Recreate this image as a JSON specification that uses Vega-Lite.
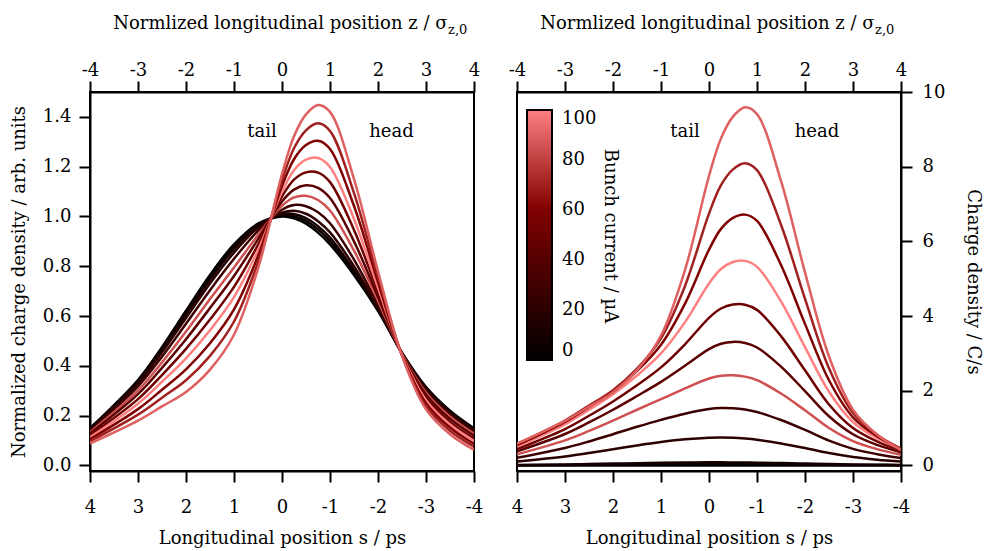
{
  "$schema": "https://vega.github.io/schema/vega-lite/v6.json",
  "background": "white",
  "padding": {"left": 9, "top": 13, "right": 2, "bottom": 0},
  "spacing": 23,
  "config": {
    "font": "DejaVu Serif",
    "view": {"stroke": "black", "strokeWidth": 2},
    "axis": {
      "domainColor": "black", "domainWidth": 2, "tickColor": "black", "tickWidth": 2, "tickSize": 11,
      "labelFontSize": 18, "titleFontSize": 18, "labelColor": "black", "titleColor": "black",
      "titleFontWeight": "normal", "grid": false, "labelFont": "DejaVu Serif", "titleFont": "DejaVu Serif",
      "labelFlush": false, "labelOverlap": false
    },
    "text": {"font": "DejaVu Serif"}
  },
  "datasets": {
    "d": [
      {"c":0,"I":0,"s":4,"n":0.149,"q":0},{"c":0,"I":0,"s":3,"n":0.343,"q":0},{"c":0,"I":0,"s":2.5,"n":0.475,"q":0},{"c":0,"I":0,"s":2,"n":0.621,"q":0},{"c":0,"I":0,"s":1.5,"n":0.765,"q":0},{"c":0,"I":0,"s":1,"n":0.888,"q":0},{"c":0,"I":0,"s":0.5,"n":0.971,"q":0},{"c":0,"I":0,"s":0,"n":1.0,"q":0},{"c":0,"I":0,"s":-0.25,"n":0.993,"q":0},{"c":0,"I":0,"s":-0.5,"n":0.971,"q":0},{"c":0,"I":0,"s":-0.75,"n":0.935,"q":0},{"c":0,"I":0,"s":-1,"n":0.888,"q":0},{"c":0,"I":0,"s":-1.5,"n":0.765,"q":0},{"c":0,"I":0,"s":-2,"n":0.621,"q":0},{"c":0,"I":0,"s":-2.5,"n":0.452,"q":0},{"c":0,"I":0,"s":-3,"n":0.315,"q":0},{"c":0,"I":0,"s":-3.5,"n":0.220,"q":0},{"c":0,"I":0,"s":-4,"n":0.149,"q":0},
      {"c":1,"I":5,"s":4,"n":0.148,"q":0.006},{"c":1,"I":5,"s":3,"n":0.339,"q":0.014},{"c":1,"I":5,"s":2.5,"n":0.469,"q":0.019},{"c":1,"I":5,"s":2,"n":0.613,"q":0.025},{"c":1,"I":5,"s":1.5,"n":0.756,"q":0.030},{"c":1,"I":5,"s":1,"n":0.879,"q":0.035},{"c":1,"I":5,"s":0.5,"n":0.967,"q":0.039},{"c":1,"I":5,"s":0,"n":1.004,"q":0.040},{"c":1,"I":5,"s":-0.25,"n":1.001,"q":0.040},{"c":1,"I":5,"s":-0.5,"n":0.982,"q":0.039},{"c":1,"I":5,"s":-0.75,"n":0.948,"q":0.038},{"c":1,"I":5,"s":-1,"n":0.901,"q":0.036},{"c":1,"I":5,"s":-1.5,"n":0.775,"q":0.031},{"c":1,"I":5,"s":-2,"n":0.625,"q":0.025},{"c":1,"I":5,"s":-2.5,"n":0.452,"q":0.018},{"c":1,"I":5,"s":-3,"n":0.313,"q":0.0125},{"c":1,"I":5,"s":-3.5,"n":0.218,"q":0.0087},{"c":1,"I":5,"s":-4,"n":0.147,"q":0.006},
      {"c":2,"I":10,"s":4,"n":0.146,"q":0.012},{"c":2,"I":10,"s":3,"n":0.335,"q":0.027},{"c":2,"I":10,"s":2.5,"n":0.463,"q":0.037},{"c":2,"I":10,"s":2,"n":0.605,"q":0.048},{"c":2,"I":10,"s":1.5,"n":0.746,"q":0.060},{"c":2,"I":10,"s":1,"n":0.870,"q":0.070},{"c":2,"I":10,"s":0.5,"n":0.962,"q":0.077},{"c":2,"I":10,"s":0,"n":1.009,"q":0.081},{"c":2,"I":10,"s":-0.25,"n":1.010,"q":0.081},{"c":2,"I":10,"s":-0.5,"n":0.993,"q":0.079},{"c":2,"I":10,"s":-0.75,"n":0.961,"q":0.077},{"c":2,"I":10,"s":-1,"n":0.915,"q":0.073},{"c":2,"I":10,"s":-1.5,"n":0.784,"q":0.063},{"c":2,"I":10,"s":-2,"n":0.629,"q":0.050},{"c":2,"I":10,"s":-2.5,"n":0.451,"q":0.036},{"c":2,"I":10,"s":-3,"n":0.311,"q":0.025},{"c":2,"I":10,"s":-3.5,"n":0.215,"q":0.017},{"c":2,"I":10,"s":-4,"n":0.145,"q":0.012},
      {"c":3,"I":20,"s":4,"n":0.143,"q":0.105},{"c":3,"I":20,"s":3,"n":0.328,"q":0.240},{"c":3,"I":20,"s":2.5,"n":0.454,"q":0.332},{"c":3,"I":20,"s":2,"n":0.592,"q":0.433},{"c":3,"I":20,"s":1.5,"n":0.731,"q":0.535},{"c":3,"I":20,"s":1,"n":0.855,"q":0.626},{"c":3,"I":20,"s":0.5,"n":0.955,"q":0.699},{"c":3,"I":20,"s":0,"n":1.015,"q":0.743},{"c":3,"I":20,"s":-0.25,"n":1.023,"q":0.749},{"c":3,"I":20,"s":-0.5,"n":1.011,"q":0.740},{"c":3,"I":20,"s":-0.75,"n":0.981,"q":0.718},{"c":3,"I":20,"s":-1,"n":0.936,"q":0.685},{"c":3,"I":20,"s":-1.5,"n":0.800,"q":0.586},{"c":3,"I":20,"s":-2,"n":0.635,"q":0.465},{"c":3,"I":20,"s":-2.5,"n":0.451,"q":0.330},{"c":3,"I":20,"s":-3,"n":0.307,"q":0.225},{"c":3,"I":20,"s":-3.5,"n":0.211,"q":0.154},{"c":3,"I":20,"s":-4,"n":0.141,"q":0.103},
      {"c":4,"I":28,"s":4,"n":0.139,"q":0.204},{"c":4,"I":28,"s":3,"n":0.317,"q":0.466},{"c":4,"I":28,"s":2.5,"n":0.437,"q":0.642},{"c":4,"I":28,"s":2,"n":0.569,"q":0.836},{"c":4,"I":28,"s":1.5,"n":0.704,"q":1.035},{"c":4,"I":28,"s":1,"n":0.830,"q":1.220},{"c":4,"I":28,"s":0.5,"n":0.942,"q":1.385},{"c":4,"I":28,"s":0,"n":1.027,"q":1.510},{"c":4,"I":28,"s":-0.25,"n":1.046,"q":1.538},{"c":4,"I":28,"s":-0.5,"n":1.041,"q":1.530},{"c":4,"I":28,"s":-0.75,"n":1.017,"q":1.495},{"c":4,"I":28,"s":-1,"n":0.973,"q":1.430},{"c":4,"I":28,"s":-1.5,"n":0.827,"q":1.216},{"c":4,"I":28,"s":-2,"n":0.646,"q":0.950},{"c":4,"I":28,"s":-2.5,"n":0.450,"q":0.662},{"c":4,"I":28,"s":-3,"n":0.301,"q":0.442},{"c":4,"I":28,"s":-3.5,"n":0.205,"q":0.301},{"c":4,"I":28,"s":-4,"n":0.135,"q":0.198},
      {"c":5,"I":85,"s":4,"n":0.133,"q":0.297},{"c":5,"I":85,"s":3,"n":0.301,"q":0.671},{"c":5,"I":85,"s":2.5,"n":0.414,"q":0.923},{"c":5,"I":85,"s":2,"n":0.538,"q":1.200},{"c":5,"I":85,"s":1.5,"n":0.668,"q":1.490},{"c":5,"I":85,"s":1,"n":0.795,"q":1.773},{"c":5,"I":85,"s":0.5,"n":0.925,"q":2.063},{"c":5,"I":85,"s":0,"n":1.043,"q":2.326},{"c":5,"I":85,"s":-0.25,"n":1.077,"q":2.402},{"c":5,"I":85,"s":-0.5,"n":1.083,"q":2.415},{"c":5,"I":85,"s":-0.75,"n":1.066,"q":2.377},{"c":5,"I":85,"s":-1,"n":1.024,"q":2.284},{"c":5,"I":85,"s":-1.5,"n":0.863,"q":1.924},{"c":5,"I":85,"s":-2,"n":0.662,"q":1.476},{"c":5,"I":85,"s":-2.5,"n":0.449,"q":1.001},{"c":5,"I":85,"s":-3,"n":0.292,"q":0.651},{"c":5,"I":85,"s":-3.5,"n":0.196,"q":0.437},{"c":5,"I":85,"s":-4,"n":0.127,"q":0.283},
      {"c":6,"I":42,"s":4,"n":0.128,"q":0.376},{"c":6,"I":42,"s":3,"n":0.286,"q":0.841},{"c":6,"I":42,"s":2.5,"n":0.392,"q":1.152},{"c":6,"I":42,"s":2,"n":0.507,"q":1.491},{"c":6,"I":42,"s":1.5,"n":0.632,"q":1.858},{"c":6,"I":42,"s":1,"n":0.761,"q":2.237},{"c":6,"I":42,"s":0.5,"n":0.908,"q":2.670},{"c":6,"I":42,"s":0,"n":1.060,"q":3.116},{"c":6,"I":42,"s":-0.25,"n":1.108,"q":3.258},{"c":6,"I":42,"s":-0.5,"n":1.125,"q":3.308},{"c":6,"I":42,"s":-0.75,"n":1.115,"q":3.278},{"c":6,"I":42,"s":-1,"n":1.074,"q":3.158},{"c":6,"I":42,"s":-1.5,"n":0.900,"q":2.646},{"c":6,"I":42,"s":-2,"n":0.677,"q":1.990},{"c":6,"I":42,"s":-2.5,"n":0.448,"q":1.317},{"c":6,"I":42,"s":-3,"n":0.284,"q":0.835},{"c":6,"I":42,"s":-3.5,"n":0.187,"q":0.550},{"c":6,"I":42,"s":-4,"n":0.119,"q":0.350},
      {"c":7,"I":52,"s":4,"n":0.120,"q":0.439},{"c":7,"I":52,"s":3,"n":0.266,"q":0.974},{"c":7,"I":52,"s":2.5,"n":0.363,"q":1.329},{"c":7,"I":52,"s":2,"n":0.468,"q":1.713},{"c":7,"I":52,"s":1.5,"n":0.586,"q":2.145},{"c":7,"I":52,"s":1,"n":0.717,"q":2.624},{"c":7,"I":52,"s":0.5,"n":0.886,"q":3.243},{"c":7,"I":52,"s":0,"n":1.080,"q":3.953},{"c":7,"I":52,"s":-0.25,"n":1.148,"q":4.202},{"c":7,"I":52,"s":-0.5,"n":1.177,"q":4.308},{"c":7,"I":52,"s":-0.75,"n":1.176,"q":4.304},{"c":7,"I":52,"s":-1,"n":1.138,"q":4.165},{"c":7,"I":52,"s":-1.5,"n":0.946,"q":3.462},{"c":7,"I":52,"s":-2,"n":0.696,"q":2.547},{"c":7,"I":52,"s":-2.5,"n":0.446,"q":1.632},{"c":7,"I":52,"s":-3,"n":0.273,"q":0.999},{"c":7,"I":52,"s":-3.5,"n":0.175,"q":0.641},{"c":7,"I":52,"s":-4,"n":0.108,"q":0.395},
      {"c":8,"I":100,"s":4,"n":0.113,"q":0.501},{"c":8,"I":100,"s":3,"n":0.248,"q":1.100},{"c":8,"I":100,"s":2.5,"n":0.336,"q":1.490},{"c":8,"I":100,"s":2,"n":0.430,"q":1.907},{"c":8,"I":100,"s":1.5,"n":0.543,"q":2.408},{"c":8,"I":100,"s":1,"n":0.676,"q":2.998},{"c":8,"I":100,"s":0.5,"n":0.865,"q":3.836},{"c":8,"I":100,"s":0,"n":1.099,"q":4.874},{"c":8,"I":100,"s":-0.25,"n":1.186,"q":5.260},{"c":8,"I":100,"s":-0.5,"n":1.228,"q":5.446},{"c":8,"I":100,"s":-0.75,"n":1.235,"q":5.477},{"c":8,"I":100,"s":-1,"n":1.199,"q":5.318},{"c":8,"I":100,"s":-1.5,"n":0.990,"q":4.391},{"c":8,"I":100,"s":-2,"n":0.714,"q":3.167},{"c":8,"I":100,"s":-2.5,"n":0.445,"q":1.974},{"c":8,"I":100,"s":-3,"n":0.262,"q":1.162},{"c":8,"I":100,"s":-3.5,"n":0.164,"q":0.727},{"c":8,"I":100,"s":-4,"n":0.098,"q":0.435},
      {"c":9,"I":60,"s":4,"n":0.105,"q":0.541},{"c":9,"I":60,"s":3,"n":0.226,"q":1.164},{"c":9,"I":60,"s":2.5,"n":0.304,"q":1.566},{"c":9,"I":60,"s":2,"n":0.386,"q":1.988},{"c":9,"I":60,"s":1.5,"n":0.491,"q":2.529},{"c":9,"I":60,"s":1,"n":0.627,"q":3.229},{"c":9,"I":60,"s":0.5,"n":0.841,"q":4.331},{"c":9,"I":60,"s":0,"n":1.122,"q":5.778},{"c":9,"I":60,"s":-0.25,"n":1.230,"q":6.335},{"c":9,"I":60,"s":-0.5,"n":1.287,"q":6.628},{"c":9,"I":60,"s":-0.75,"n":1.304,"q":6.716},{"c":9,"I":60,"s":-1,"n":1.271,"q":6.546},{"c":9,"I":60,"s":-1.5,"n":1.042,"q":5.366},{"c":9,"I":60,"s":-2,"n":0.736,"q":3.790},{"c":9,"I":60,"s":-2.5,"n":0.443,"q":2.281},{"c":9,"I":60,"s":-3,"n":0.250,"q":1.288},{"c":9,"I":60,"s":-3.5,"n":0.152,"q":0.783},{"c":9,"I":60,"s":-4,"n":0.086,"q":0.443},
      {"c":10,"I":70,"s":4,"n":0.097,"q":0.571},{"c":10,"I":70,"s":3,"n":0.204,"q":1.202},{"c":10,"I":70,"s":2.5,"n":0.272,"q":1.602},{"c":10,"I":70,"s":2,"n":0.342,"q":2.014},{"c":10,"I":70,"s":1.5,"n":0.440,"q":2.592},{"c":10,"I":70,"s":1,"n":0.578,"q":3.404},{"c":10,"I":70,"s":0.5,"n":0.816,"q":4.806},{"c":10,"I":70,"s":0,"n":1.145,"q":6.744},{"c":10,"I":70,"s":-0.25,"n":1.274,"q":7.504},{"c":10,"I":70,"s":-0.5,"n":1.346,"q":7.928},{"c":10,"I":70,"s":-0.75,"n":1.374,"q":8.093},{"c":10,"I":70,"s":-1,"n":1.343,"q":7.910},{"c":10,"I":70,"s":-1.5,"n":1.094,"q":6.444},{"c":10,"I":70,"s":-2,"n":0.757,"q":4.459},{"c":10,"I":70,"s":-2.5,"n":0.442,"q":2.603},{"c":10,"I":70,"s":-3,"n":0.238,"q":1.402},{"c":10,"I":70,"s":-3.5,"n":0.139,"q":0.819},{"c":10,"I":70,"s":-4,"n":0.075,"q":0.442},
      {"c":11,"I":90,"s":4,"n":0.088,"q":0.583},{"c":11,"I":90,"s":3,"n":0.180,"q":1.193},{"c":11,"I":90,"s":2.5,"n":0.237,"q":1.570},{"c":11,"I":90,"s":2,"n":0.295,"q":1.954},{"c":11,"I":90,"s":1.5,"n":0.385,"q":2.551},{"c":11,"I":90,"s":1,"n":0.525,"q":3.478},{"c":11,"I":90,"s":0.5,"n":0.790,"q":5.234},{"c":11,"I":90,"s":0,"n":1.170,"q":7.751},{"c":11,"I":90,"s":-0.25,"n":1.322,"q":8.758},{"c":11,"I":90,"s":-0.5,"n":1.410,"q":9.341},{"c":11,"I":90,"s":-0.75,"n":1.448,"q":9.593},{"c":11,"I":90,"s":-1,"n":1.420,"q":9.408},{"c":11,"I":90,"s":-1.5,"n":1.150,"q":7.619},{"c":11,"I":90,"s":-2,"n":0.780,"q":5.168},{"c":11,"I":90,"s":-2.5,"n":0.440,"q":2.915},{"c":11,"I":90,"s":-3,"n":0.225,"q":1.491},{"c":11,"I":90,"s":-3.5,"n":0.125,"q":0.828},{"c":11,"I":90,"s":-4,"n":0.062,"q":0.411}
    ]
  },
  "resolve": {"scale": {"color": "independent"}, "legend": {"color": "independent"}},
  "hconcat": [
    {
      "width": 384, "height": 379,
      "layer": [
        {
          "data": {"name": "d"},
          "mark": {"type": "line", "interpolate": "catmull-rom", "strokeWidth": 2.5, "clip": true},
          "encoding": {
            "x": {"field": "s", "type": "quantitative", "scale": {"domain": [4, -4], "nice": false, "zero": false},
                  "axis": {"orient": "bottom", "values": [-4,-3,-2,-1,0,1,2,3,4], "labelExpr": "'' + datum.value", "title": "Longitudinal position s / ps", "labelPadding": 16, "titlePadding": 13}},
            "y": {"field": "n", "type": "quantitative", "scale": {"domain": [-0.0225, 1.5], "nice": false, "zero": false},
                  "axis": {"orient": "left", "values": [0,0.2,0.4,0.6,0.8,1.0,1.2,1.4], "format": ".1f", "title": "Normalized charge density / arb. units", "labelPadding": 8, "titlePadding": 14}},
            "color": {"field": "I", "type": "quantitative", "scale": {"domain": [0, 60, 100], "range": ["#000000", "#800000", "#ff8080"], "interpolate": "rgb"}, "legend": null},
            "detail": {"field": "c"}
          }
        },
        {
          "data": {"values": [{"s": 0.417, "y": 1.32, "t": "tail"}, {"s": -2.28, "y": 1.32, "t": "head"}]},
          "mark": {"type": "text", "fontSize": 18, "align": "center", "baseline": "alphabetic", "color": "black"},
          "encoding": {
            "x": {"field": "s", "type": "quantitative", "scale": {"domain": [4, -4], "nice": false, "zero": false}, "axis": null},
            "y": {"field": "y", "type": "quantitative", "scale": {"domain": [-0.0225, 1.5], "nice": false, "zero": false}},
            "text": {"field": "t"}
          }
        },
        {
          "data": {"values": [{"s": -3.46, "y": 1.5, "t": "z,0"}]},
          "mark": {"type": "text", "fontSize": 13, "align": "left", "baseline": "alphabetic", "dy": -58, "color": "black"},
          "encoding": {
            "x": {"field": "s", "type": "quantitative", "scale": {"domain": [4, -4], "nice": false, "zero": false},
                  "axis": {"orient": "top", "values": [-4,-3,-2,-1,0,1,2,3,4], "labelExpr": "'' + (-datum.value)", "title": "Normlized longitudinal position z / σ", "titleAlign": "right", "titleX": 357, "labelPadding": 2, "titlePadding": 29}},
            "y": {"field": "y", "type": "quantitative", "scale": {"domain": [-0.0225, 1.5], "nice": false, "zero": false}},
            "text": {"field": "t"}
          }
        }
      ],
      "resolve": {"axis": {"x": "independent"}}
    },
    {
      "width": 384, "height": 379,
      "layer": [
        {
          "data": {"name": "d"},
          "mark": {"type": "line", "interpolate": "catmull-rom", "strokeWidth": 2.5, "clip": true},
          "encoding": {
            "x": {"field": "s", "type": "quantitative", "scale": {"domain": [4, -4], "nice": false, "zero": false},
                  "axis": {"orient": "bottom", "values": [-4,-3,-2,-1,0,1,2,3,4], "labelExpr": "'' + datum.value", "title": "Longitudinal position s / ps", "labelPadding": 16, "titlePadding": 13}},
            "y": {"field": "q", "type": "quantitative", "scale": {"domain": [-0.15, 10], "nice": false, "zero": false},
                  "axis": {"orient": "right", "values": [0,2,4,6,8,10], "title": "Charge density / C/s", "labelPadding": 10, "titlePadding": 19}},
            "color": {"field": "I", "type": "quantitative", "scale": {"domain": [0, 60, 100], "range": ["#000000", "#800000", "#ff8080"], "interpolate": "rgb"},
                      "legend": {"orient": "none", "legendX": 10, "legendY": 18, "direction": "vertical", "gradientLength": 250, "gradientThickness": 25,
                                 "gradientStrokeColor": "black", "gradientStrokeWidth": 2, "title": "Bunch current / µA", "titleOrient": "right",
                                 "titleFontSize": 18, "titleFontWeight": "normal", "titleColor": "black", "titleFont": "DejaVu Serif", "titleAnchor": "middle",
                                 "labelFontSize": 18, "labelFont": "DejaVu Serif", "labelColor": "black", "labelOffset": 10, "values": [0,20,40,60,80,100], "labelOverlap": false, "padding": 0}},
            "detail": {"field": "c"}
          }
        },
        {
          "data": {"values": [{"s": 0.5, "y": 8.79, "t": "tail"}, {"s": -2.25, "y": 8.79, "t": "head"}]},
          "mark": {"type": "text", "fontSize": 18, "align": "center", "baseline": "alphabetic", "color": "black"},
          "encoding": {
            "x": {"field": "s", "type": "quantitative", "scale": {"domain": [4, -4], "nice": false, "zero": false}, "axis": null},
            "y": {"field": "y", "type": "quantitative", "scale": {"domain": [-0.15, 10], "nice": false, "zero": false}},
            "text": {"field": "t"}
          }
        },
        {
          "data": {"values": [{"s": -3.46, "y": 10, "t": "z,0"}]},
          "mark": {"type": "text", "fontSize": 13, "align": "left", "baseline": "alphabetic", "dy": -58, "color": "black"},
          "encoding": {
            "x": {"field": "s", "type": "quantitative", "scale": {"domain": [4, -4], "nice": false, "zero": false},
                  "axis": {"orient": "top", "values": [-4,-3,-2,-1,0,1,2,3,4], "labelExpr": "'' + (-datum.value)", "title": "Normlized longitudinal position z / σ", "titleAlign": "right", "titleX": 357, "labelPadding": 2, "titlePadding": 29}},
            "y": {"field": "y", "type": "quantitative", "scale": {"domain": [-0.15, 10], "nice": false, "zero": false}},
            "text": {"field": "t"}
          }
        }
      ],
      "resolve": {"axis": {"x": "independent"}}
    }
  ]
}
